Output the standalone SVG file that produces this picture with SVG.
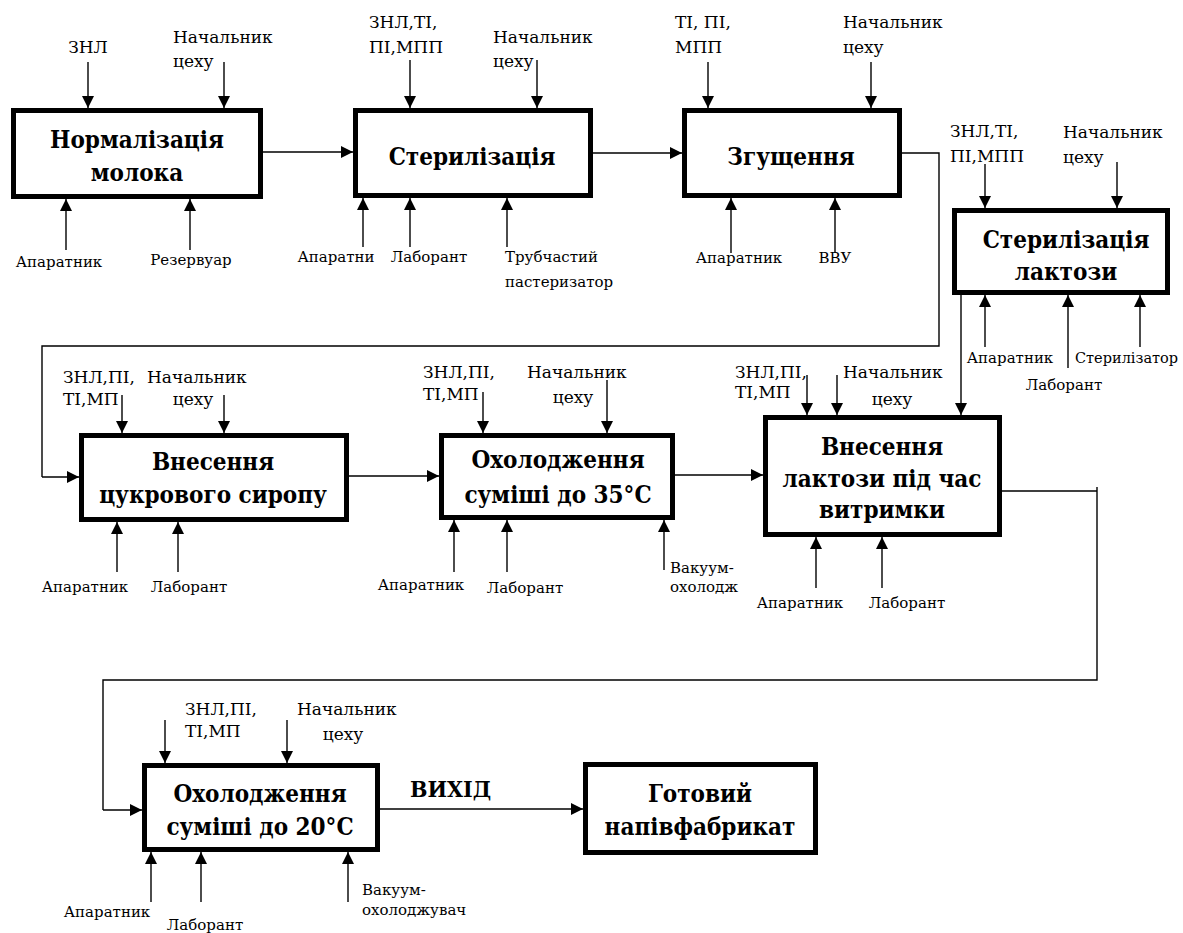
<svg xmlns="http://www.w3.org/2000/svg" width="1183" height="933" viewBox="0 0 1183 933" font-family="DejaVu Serif, serif">
  <style>
    .box { fill: #ffffff; stroke: #000000; stroke-width: 5; }
    .title { font-family: 'DejaVu Serif Condensed', 'DejaVu Serif', serif; font-stretch: condensed; font-weight: bold; font-size: 24px; fill: #000000; text-anchor: middle; }
    .lbl { font-size: 17px; fill: #000000; }
    .lbs { font-size: 15px; fill: #000000; }
    .mid { text-anchor: middle; }
    .ln { fill: none; stroke: #000000; stroke-width: 1.4; }
    .arr { fill: none; stroke: #000000; stroke-width: 1.4; marker-end: url(#ah); }
  </style>
  <defs>
    <marker id="ah" viewBox="0 0 12 12" refX="12" refY="6" markerWidth="12" markerHeight="12" markerUnits="userSpaceOnUse" orient="auto">
      <path d="M0,0 L12,6 L0,12 z" fill="#000000"/>
    </marker>
  </defs>

  <rect width="1183" height="933" fill="#ffffff"/>

  <!-- flow connectors between stages -->
  <g id="connectors">
    <path class="arr" d="M263,152 H353"/>
    <path class="arr" d="M593,153 H682"/>
    <path class="ln" d="M902,153 H939 V346 H42 V477"/>
    <path class="arr" d="M42,477 H79"/>
    <path class="arr" d="M349,476 H439"/>
    <path class="arr" d="M675,475 H763"/>
    <path class="arr" d="M961,295 V415"/>
    <path class="ln" d="M1002,491 H1097 M1097,487 V680 H103 V810"/>
    <path class="arr" d="M103,810 H142"/>
    <path class="arr" d="M380,809 H583"/>
    <text class="title" x="410" y="797" style="text-anchor:start;font-size:23px">ВИХІД</text>
  </g>

  <!-- stage 1 -->
  <g id="n1">
    <rect class="box" x="13.5" y="110.5" width="247" height="86"/>
    <text class="title" x="137" y="148">Нормалізація</text>
    <text class="title" x="137" y="181">молока</text>
    <path class="arr" d="M88,62 V108"/>
    <text class="lbl mid" x="88" y="53">ЗНЛ</text>
    <path class="arr" d="M224,62 V108"/>
    <text class="lbl" x="173" y="43">Начальник</text>
    <text class="lbl" x="173" y="67">цеху</text>
    <path class="arr" d="M66,250 V199"/>
    <text class="lbs mid" x="59" y="267">Апаратник</text>
    <path class="arr" d="M190,250 V199"/>
    <text class="lbs mid" x="191" y="265">Резервуар</text>
  </g>

  <!-- stage 2 -->
  <g id="n2">
    <rect class="box" x="355.5" y="110.5" width="235" height="85"/>
    <text class="title" x="472" y="165">Стерилізація</text>
    <path class="arr" d="M410,60 V108"/>
    <text class="lbl" x="369" y="28">ЗНЛ,ТІ,</text>
    <text class="lbl" x="369" y="53">ПІ,МПП</text>
    <path class="arr" d="M537,60 V108"/>
    <text class="lbl" x="493" y="43">Начальник</text>
    <text class="lbl" x="493" y="67">цеху</text>
    <path class="arr" d="M363,247 V198"/>
    <text class="lbs mid" x="336" y="262">Апаратни</text>
    <path class="arr" d="M410,247 V198"/>
    <text class="lbs mid" x="429" y="262">Лаборант</text>
    <path class="arr" d="M507,247 V198"/>
    <text class="lbs" x="505" y="262">Трубчастий</text>
    <text class="lbs" x="505" y="287">пастеризатор</text>
  </g>

  <!-- stage 3 -->
  <g id="n3">
    <rect class="box" x="684.5" y="110.5" width="215" height="85"/>
    <text class="title" x="791" y="165">Згущення</text>
    <path class="arr" d="M708,62 V108"/>
    <text class="lbl" x="675" y="28">ТІ, ПІ,</text>
    <text class="lbl" x="675" y="53">МПП</text>
    <path class="arr" d="M871,62 V108"/>
    <text class="lbl" x="843" y="28">Начальник</text>
    <text class="lbl" x="843" y="53">цеху</text>
    <path class="arr" d="M731,253 V198"/>
    <text class="lbs mid" x="739" y="263">Апаратник</text>
    <path class="arr" d="M835,253 V198"/>
    <text class="lbs mid" x="835" y="263">ВВУ</text>
  </g>

  <!-- stage 4 -->
  <g id="n4">
    <rect class="box" x="954.5" y="210.5" width="213" height="82"/>
    <text class="title" x="1066" y="248">Стерилізація</text>
    <text class="title" x="1066" y="280">лактози</text>
    <path class="arr" d="M985,164 V208"/>
    <text class="lbl" x="950" y="137">ЗНЛ,ТІ,</text>
    <text class="lbl" x="950" y="162">ПІ,МПП</text>
    <path class="arr" d="M1117,162 V208"/>
    <text class="lbl" x="1063" y="138">Начальник</text>
    <text class="lbl" x="1063" y="163">цеху</text>
    <path class="arr" d="M985,347 V295"/>
    <text class="lbs mid" x="1010" y="363">Апаратник</text>
    <path class="arr" d="M1068,368 V295"/>
    <text class="lbs mid" x="1064" y="390">Лаборант</text>
    <path class="arr" d="M1140,347 V295"/>
    <text class="lbs" x="1075" y="363" style="font-size:14.5px">Стерилізатор</text>
  </g>

  <!-- stage 5 -->
  <g id="n5">
    <rect class="box" x="81.5" y="435.5" width="265" height="84"/>
    <text class="title" x="213" y="470">Внесення</text>
    <text class="title" x="213" y="503">цукрового сиропу</text>
    <path class="arr" d="M122,395 V433"/>
    <text class="lbl" x="63" y="383">ЗНЛ,ПІ,</text>
    <text class="lbl" x="63" y="405">ТІ,МП</text>
    <path class="arr" d="M224,395 V433"/>
    <text class="lbl" x="147" y="383">Начальник</text>
    <text class="lbl mid" x="193" y="405">цеху</text>
    <path class="arr" d="M117,572 V522"/>
    <text class="lbs mid" x="85" y="592">Апаратник</text>
    <path class="arr" d="M178,572 V522"/>
    <text class="lbs mid" x="189" y="592">Лаборант</text>
  </g>

  <!-- stage 6 -->
  <g id="n6">
    <rect class="box" x="441.5" y="435.5" width="231" height="82"/>
    <text class="title" x="558" y="468">Охолодження</text>
    <text class="title" x="558" y="503">суміші до 35°С</text>
    <path class="arr" d="M483,392 V433"/>
    <text class="lbl" x="423" y="378">ЗНЛ,ПІ,</text>
    <text class="lbl" x="423" y="400">ТІ,МП</text>
    <path class="arr" d="M607,380 V433"/>
    <text class="lbl" x="527" y="378">Начальник</text>
    <text class="lbl mid" x="573" y="403">цеху</text>
    <path class="arr" d="M454,572 V520"/>
    <text class="lbs mid" x="421" y="590">Апаратник</text>
    <path class="arr" d="M507,572 V520"/>
    <text class="lbs mid" x="525" y="593">Лаборант</text>
    <path class="arr" d="M664,570 V520"/>
    <text class="lbs" x="670" y="573">Вакуум-</text>
    <text class="lbs" x="670" y="592">охолодж</text>
  </g>

  <!-- stage 7 -->
  <g id="n7">
    <rect class="box" x="765.5" y="417.5" width="234" height="117"/>
    <text class="title" x="882" y="455">Внесення</text>
    <text class="title" x="882" y="487">лактози під час</text>
    <text class="title" x="882" y="518">витримки</text>
    <path class="arr" d="M807,375 V415"/>
    <text class="lbl" x="735" y="378">ЗНЛ,ПІ,</text>
    <text class="lbl" x="735" y="398">ТІ,МП</text>
    <path class="arr" d="M837,375 V415"/>
    <text class="lbl" x="843" y="378">Начальник</text>
    <text class="lbl mid" x="892" y="405">цеху</text>
    <path class="arr" d="M816,588 V537"/>
    <text class="lbs mid" x="800" y="608">Апаратник</text>
    <path class="arr" d="M882,588 V537"/>
    <text class="lbs mid" x="907" y="608">Лаборант</text>
  </g>

  <!-- stage 8 -->
  <g id="n8">
    <rect class="box" x="144.5" y="765.5" width="233" height="84"/>
    <text class="title" x="260" y="802">Охолодження</text>
    <text class="title" x="260" y="835">суміші до 20°С</text>
    <path class="arr" d="M165,720 V763"/>
    <text class="lbl" x="185" y="715">ЗНЛ,ПІ,</text>
    <text class="lbl" x="185" y="737">ТІ,МП</text>
    <path class="arr" d="M287,720 V763"/>
    <text class="lbl" x="297" y="715">Начальник</text>
    <text class="lbl mid" x="343" y="740">цеху</text>
    <path class="arr" d="M151,902 V852"/>
    <text class="lbs mid" x="107" y="917">Апаратник</text>
    <path class="arr" d="M201,902 V852"/>
    <text class="lbs mid" x="205" y="930">Лаборант</text>
    <path class="arr" d="M348,902 V852"/>
    <text class="lbs" x="362" y="895">Вакуум-</text>
    <text class="lbs" x="362" y="915">охолоджувач</text>
  </g>

  <!-- result -->
  <g id="n9">
    <rect class="box" x="585.5" y="764.5" width="230" height="88"/>
    <text class="title" x="700" y="802">Готовий</text>
    <text class="title" x="700" y="835">напівфабрикат</text>
  </g>
</svg>
